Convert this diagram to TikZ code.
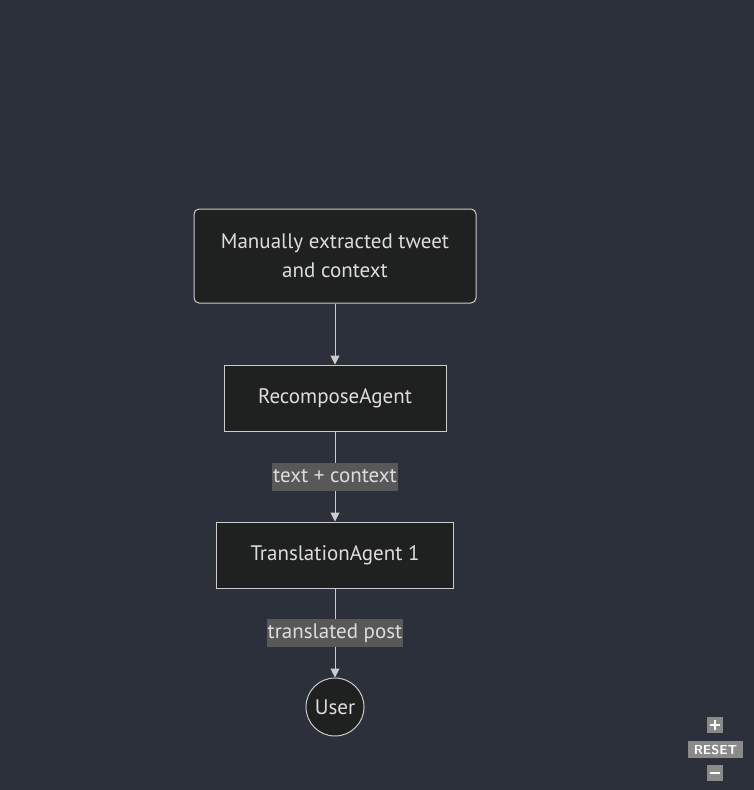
\documentclass[tikz,border=0pt]{standalone}
\usepackage{fontspec}
\setmainfont{PT Sans}
\usetikzlibrary{arrows.meta}
\definecolor{bg}{HTML}{2B303B}
\definecolor{nodefill}{HTML}{1F2020}
\definecolor{nodeline}{HTML}{CCCCCC}
\definecolor{txt}{HTML}{DDDDDD}
\definecolor{lblbg}{HTML}{585858}
\definecolor{btn}{HTML}{8A8A8A}
\tikzset{
  box/.style={draw=nodeline, fill=nodefill, text=txt, line width=1pt, inner sep=0pt, font=\fontsize{21}{29}\selectfont, align=center},
  edgelbl/.style={fill=lblbg, text=txt, inner xsep=1pt, inner ysep=0pt, minimum height=28pt, font=\fontsize{21}{24}\selectfont},
  conn/.style={draw=nodeline, line width=1pt, -{Triangle[length=9pt,width=9pt]}},
  ctrl/.style={fill=btn, text=white, inner sep=0pt, font=\sffamily\bfseries\fontsize{13}{13}\selectfont}
}
\begin{document}
\begin{tikzpicture}[x=1pt,y=-1pt]
\fill[bg] (0,0) rectangle (754,790);
\useasboundingbox (0,0) rectangle (754,790);
\node[box, rounded corners=5pt, minimum width=282pt, minimum height=94pt] (src) at (335,256) {Manually extracted tweet\\and context};
\node[box, minimum width=222pt, minimum height=66pt] (rec) at (335,398) {RecomposeAgent};
\node[box, minimum width=237pt, minimum height=66pt] (tra) at (335,555) {TranslationAgent 1};
\node[box, circle, minimum size=58pt] (usr) at (335,707) {User};
\draw[conn] (src) -- (rec);
\draw[conn] (rec) -- node[edgelbl] {text + context} (tra);
\draw[conn] (tra) -- node[edgelbl] {translated post} (usr);
\node[ctrl, minimum width=16pt, minimum height=16pt] (plus) at (715,725) {};
\fill[white] ([xshift=-5pt,yshift=-1.3pt]plus.center) rectangle ([xshift=5pt,yshift=1.3pt]plus.center);
\fill[white] ([xshift=-1.3pt,yshift=-5pt]plus.center) rectangle ([xshift=1.3pt,yshift=5pt]plus.center);
\node[ctrl, minimum width=55pt, minimum height=17pt] (reset) at (715.5,749.5) {RESET};
\node[ctrl, minimum width=16pt, minimum height=16pt] (minus) at (715,773) {};
\fill[white] ([xshift=-5pt,yshift=-1.3pt]minus.center) rectangle ([xshift=5pt,yshift=1.3pt]minus.center);
\end{tikzpicture}
\end{document}
